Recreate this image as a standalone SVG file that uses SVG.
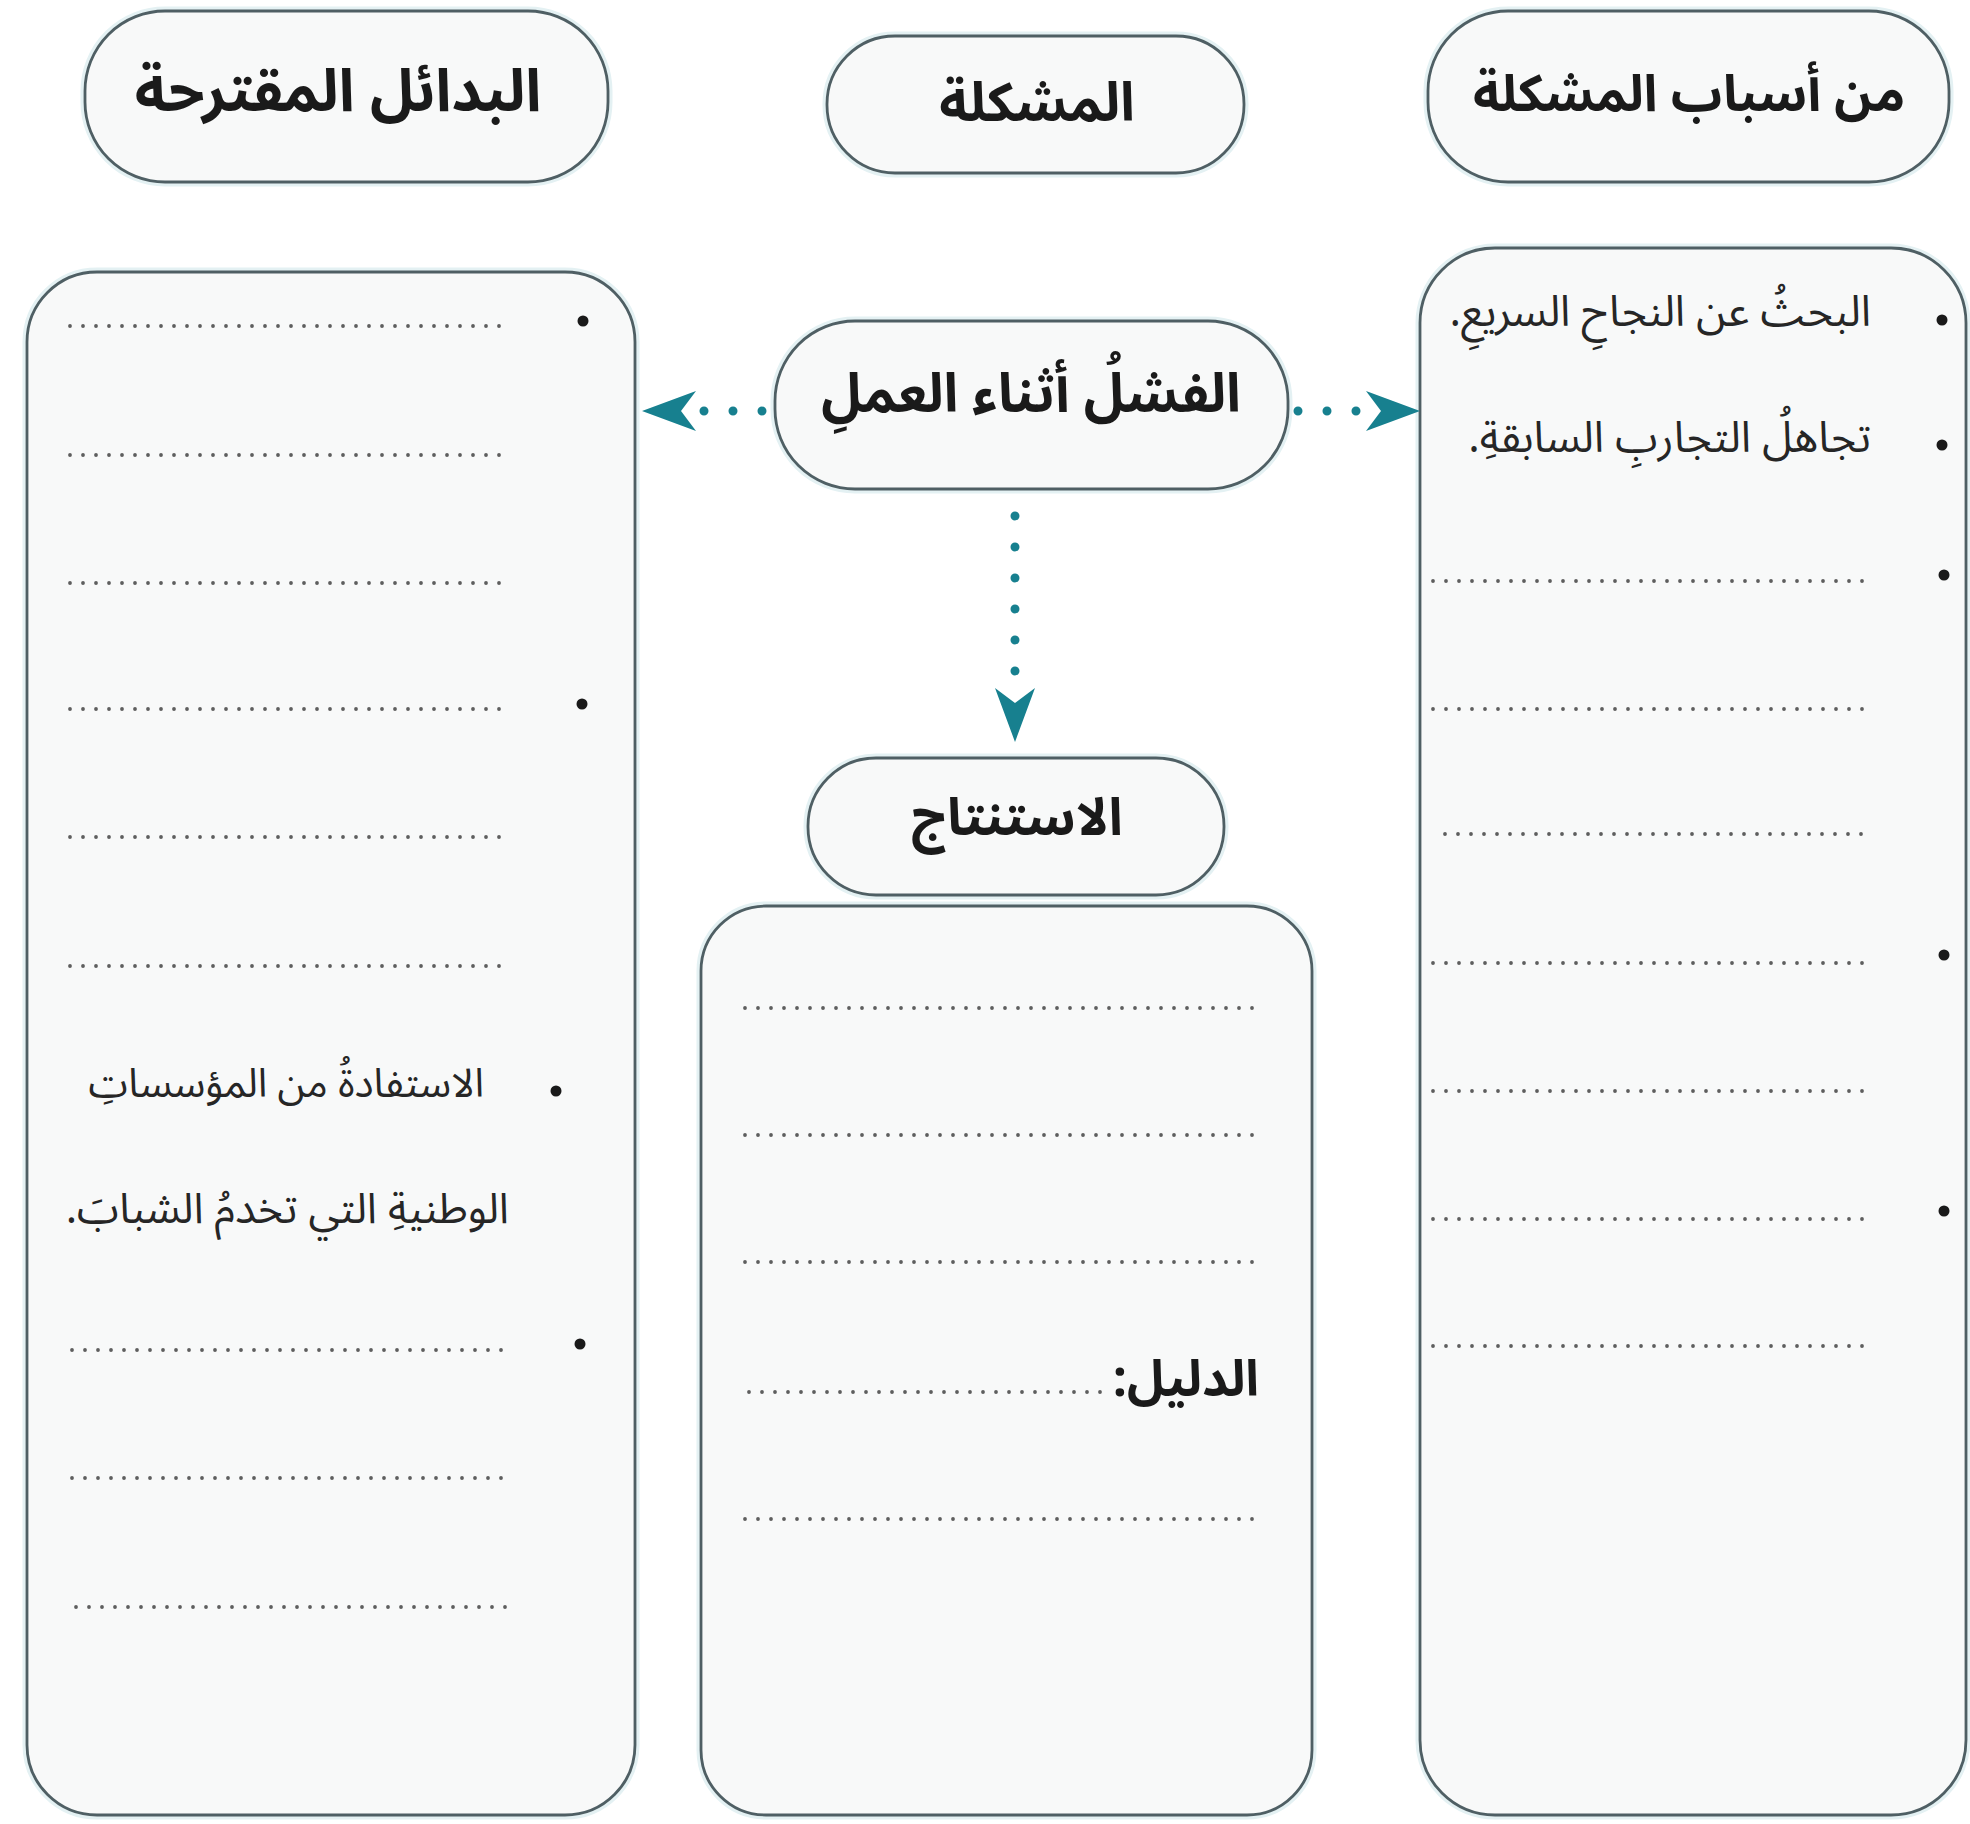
<svg xmlns="http://www.w3.org/2000/svg" width="1970" height="1824" viewBox="0 0 1970 1824">
<style>
.box{fill:#f8f9f9;stroke:#4f5f64;stroke-width:2.8}
.halo{fill:none;stroke:#e4f1f3;stroke-width:9}
.title{font-family:'Noto Sans Arabic','DejaVu Sans',sans-serif;font-weight:bold;font-size:54px;fill:#1a1a1a;text-anchor:middle}
.body{font-family:'Noto Sans Arabic','DejaVu Sans',sans-serif;font-size:42px;fill:#262626;direction:rtl;text-anchor:start}
.bold{font-weight:bold;fill:#1a1a1a}
.dots{stroke:#5e5e5e;stroke-width:3.8;stroke-linecap:round;stroke-dasharray:0 13;fill:none}
.bullet{fill:#1a1a1a}
.conn{stroke:#17808f;stroke-width:9;stroke-linecap:round;stroke-dasharray:0 29;fill:none}
.connv{stroke-dasharray:0 31}
</style>
<defs>
<marker id="head" markerUnits="userSpaceOnUse" viewBox="0 0 54 40" markerWidth="54" markerHeight="40" refX="0" refY="20" orient="auto">
<path d="M0,0 L54,20 L0,40 L15,20 Z" fill="#17808f"/>
</marker>
</defs>
<rect width="1970" height="1824" fill="#ffffff"/>

<g id="alternatives-title">
<rect class="halo" x="85" y="11" width="523" height="171" rx="80"/>
<rect class="box" x="85" y="11" width="523" height="171" rx="80"/>
<text class="title" x="338" y="111" style="font-size:59px">البدائل المقترحة</text>
</g>

<g id="problem-title">
<rect class="halo" x="827" y="36" width="417" height="137" rx="68"/>
<rect class="box" x="827" y="36" width="417" height="137" rx="68"/>
<text class="title" x="1037" y="121">المشكلة</text>
</g>

<g id="causes-title">
<rect class="halo" x="1428" y="11" width="521" height="171" rx="80"/>
<rect class="box" x="1428" y="11" width="521" height="171" rx="80"/>
<text class="title" x="1689" y="111" style="font-size:51px">من أسباب المشكلة</text>
</g>

<g id="alternatives-box">
<rect class="halo" x="27" y="272" width="608" height="1543" rx="70"/>
<rect class="box" x="27" y="272" width="608" height="1543" rx="70"/>
<circle class="bullet" cx="583" cy="321" r="5.5"/>
<line class="dots" x1="70" y1="326" x2="508" y2="326"/>
<line class="dots" x1="70" y1="455" x2="508" y2="455"/>
<line class="dots" x1="70" y1="583" x2="508" y2="583"/>
<circle class="bullet" cx="582" cy="704" r="5.5"/>
<line class="dots" x1="70" y1="709" x2="508" y2="709"/>
<line class="dots" x1="70" y1="837" x2="508" y2="837"/>
<line class="dots" x1="70" y1="966" x2="508" y2="966"/>
<circle class="bullet" cx="556" cy="1091" r="5.5"/>
<text class="body" x="484" y="1097" style="font-size:40px">الاستفادةُ من المؤسساتِ</text>
<text class="body" x="509" y="1223" style="font-size:42.5px">الوطنيةِ التي تخدمُ الشبابَ.</text>
<circle class="bullet" cx="580" cy="1344" r="5.5"/>
<line class="dots" x1="72" y1="1350" x2="508" y2="1350"/>
<line class="dots" x1="72" y1="1478" x2="508" y2="1478"/>
<line class="dots" x1="76" y1="1607" x2="512" y2="1607"/>
</g>

<g id="failure-node">
<rect class="halo" x="775" y="321" width="513" height="168" rx="80"/>
<rect class="box" x="775" y="321" width="513" height="168" rx="80"/>
<text class="title" x="1031" y="412">الفشلُ أثناء العملِ</text>
</g>

<g id="conclusion-title">
<rect class="halo" x="808" y="758" width="416" height="137" rx="68"/>
<rect class="box" x="808" y="758" width="416" height="137" rx="68"/>
<text class="title" x="1017" y="835" style="font-size:52px">الاستنتاج</text>
</g>

<g id="conclusion-box">
<rect class="halo" x="701" y="906" width="611" height="909" rx="65"/>
<rect class="box" x="701" y="906" width="611" height="909" rx="65"/>
<line class="dots" x1="745" y1="1008" x2="1261" y2="1008"/>
<line class="dots" x1="745" y1="1135" x2="1261" y2="1135"/>
<line class="dots" x1="745" y1="1262" x2="1261" y2="1262"/>
<text class="body bold" x="1259" y="1396" style="font-size:50px">الدليل:</text>
<line class="dots" x1="749" y1="1392" x2="1101" y2="1392"/>
<line class="dots" x1="745" y1="1519" x2="1261" y2="1519"/>
</g>

<g id="causes-box">
<rect class="halo" x="1420" y="248" width="546" height="1567" rx="75"/>
<rect class="box" x="1420" y="248" width="546" height="1567" rx="75"/>
<circle class="bullet" cx="1942" cy="320" r="5.5"/>
<text class="body" x="1871" y="326" style="font-size:43px">البحثُ عن النجاحِ السريعِ.</text>
<circle class="bullet" cx="1942" cy="445" r="5.5"/>
<text class="body" x="1871" y="452" style="font-size:43px">تجاهلُ التجاربِ السابقةِ.</text>
<circle class="bullet" cx="1944" cy="575" r="5.5"/>
<line class="dots" x1="1433" y1="581" x2="1869" y2="581"/>
<line class="dots" x1="1433" y1="709" x2="1869" y2="709"/>
<line class="dots" x1="1445" y1="834" x2="1869" y2="834"/>
<circle class="bullet" cx="1944" cy="955" r="5.5"/>
<line class="dots" x1="1433" y1="963" x2="1869" y2="963"/>
<line class="dots" x1="1433" y1="1091" x2="1869" y2="1091"/>
<circle class="bullet" cx="1944" cy="1211" r="5.5"/>
<line class="dots" x1="1433" y1="1219" x2="1869" y2="1219"/>
<line class="dots" x1="1433" y1="1346" x2="1869" y2="1346"/>
</g>

<g id="connectors">
<path class="conn" d="M762,411 L696,411" marker-end="url(#head)"/>
<path class="conn" d="M1298,411 L1366,411" marker-end="url(#head)"/>
<path class="conn connv" d="M1015,516 L1015,688" marker-end="url(#head)"/>
</g>
</svg>
